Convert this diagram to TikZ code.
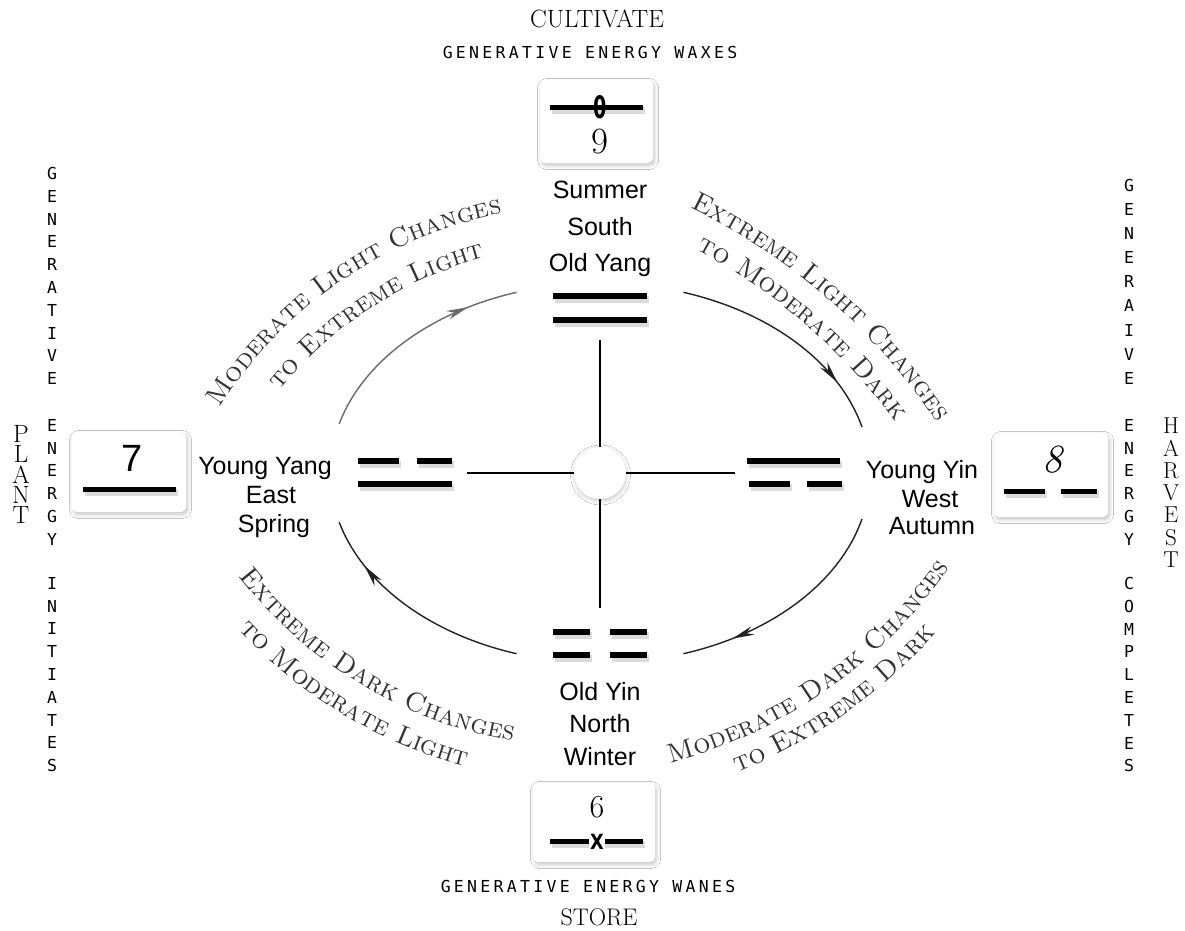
\documentclass[tikz,border=0pt]{standalone}
\usepackage{fontspec}
\usetikzlibrary{arrows.meta,decorations.markings,decorations.text,shadows.blur}
\newfontfamily\lsans{Liberation Sans}
\newfontfamily\monosp[LetterSpace=20]{DejaVu Sans Mono}
\newfontfamily\monov{DejaVu Sans Mono}
\newfontfamily\dvsans{DejaVu Sans}
\definecolor{arcgray}{HTML}{333333}
\definecolor{arrowgray}{HTML}{6A6A6A}
\definecolor{arrowdark}{HTML}{222222}
\newcommand\arcfont{\fontsize{27}{27}\selectfont\scshape\color{arcgray}}
% circular text: cx, cy, r, tstart, tend (math angles, y up), text
\newcommand\arctxt[6]{%
  \path[decorate,decoration={text along path,text align=center,
    text={|\arcfont|#6}}]
    (#1,#2) ++(-#4:#3) arc[start angle=-#4,end angle=-#5,radius=#3];}
% arrow arc on main ellipse: tstart, tend, colour
\newcommand\arrowarc[3]{%
  \draw[arcline,draw=#3,postaction={decorate},
    decoration={markings,mark=at position 0.78 with {\arrow{Stealth[length=22pt,width=9pt,inset=7pt]}}}]
    (600,473) ++(-#1:270 and 190) arc[start angle=-#1,end angle=-#2,x radius=270,y radius=190];}
% digram bar with shadow: x1, x2, y
\newcommand\digline[3]{%
  \draw[barshadow] (#1+2,#3+3.5) -- (#2+2,#3+3.5);
  \draw[bar] (#1,#3) -- (#2,#3);}
\tikzset{
  lbl/.style={font=\lsans\fontsize{25}{25}\selectfont,anchor=base,inner sep=0pt},
  spaced/.style={font=\monosp\fontsize{16.5}{16.5}\selectfont,anchor=base,inner sep=0pt},
  vert/.style={font=\monov\fontsize{16.5}{22.8}\selectfont,align=center,anchor=north,inner sep=0pt},
  vertwide/.style={font=\monov\fontsize{16.5}{24.1}\selectfont,align=center,anchor=north,inner sep=0pt},
  bigcap/.style={font=\fontsize{25}{25}\selectfont,anchor=base,inner sep=0pt},
  box/.style={fill=white,rounded corners=5pt,inner sep=0pt,
    blur shadow={shadow xshift=1.5pt,shadow yshift=-2.5pt,shadow blur radius=4pt,shadow opacity=24}},
  bar/.style={line width=6pt,black},
  barshadow/.style={line width=6.5pt,black,opacity=0.14},
  boxbar/.style={line width=5pt,black},
  arcline/.style={line width=1.4pt},
  crossline/.style={line width=1.5pt,black},
}
\begin{document}
\begin{tikzpicture}[x=1pt,y=-1pt]
\path[use as bounding box,fill=white] (0,0) rectangle (1185,930);

% ---- arrow arcs
\arrowarc{165}{108}{arrowgray}
\arrowarc{72}{14}{arrowdark}
\arrowarc{-14}{-72}{arrowdark}
\arrowarc{-108}{-165}{arrowdark}

% ---- curved texts
\arctxt{587}{639}{434}{159.5}{89.5}{Moderate Light Changes}
\arctxt{587}{639}{395}{158}{88}{to Extreme Light}
\arctxt{422}{766}{619}{74}{24}{Extreme Light Changes}
\arctxt{422}{766}{585}{74}{24}{to Moderate Dark}
\arctxt{587}{307}{440}{-156}{-86}{Extreme Dark Changes}
\arctxt{587}{307}{475}{-156}{-86}{to Moderate Light}
\arctxt{542}{282}{498}{-80}{-30}{Moderate Dark Changes}
\arctxt{542}{282}{528}{-80}{-30}{to Extreme Dark}

% ---- centre cross
\node[circle,fill=white,minimum size=52pt,inner sep=0pt,
  blur shadow={shadow xshift=0.5pt,shadow yshift=-2pt,shadow blur radius=4pt,shadow opacity=22}] (ctr) at (600,473) {};
\coordinate (vtop) at (600,340);
\coordinate (vbot) at (600,608);
\coordinate (hl) at (467,473);
\coordinate (hr) at (735,473);
\draw[crossline] (vtop) -- (ctr.north);
\draw[crossline] (ctr.south) -- (vbot);
\draw[crossline] (hl) -- (ctr.west);
\draw[crossline] (ctr.east) -- (hr);

% ---- digrams
\digline{553}{647}{296}
\digline{553}{647}{320}
\digline{358}{399}{461}
\digline{417}{452}{461}
\digline{358}{452}{484}
\digline{747}{840}{461}
\digline{749}{790}{484}
\digline{807}{842}{484}
\digline{553}{590}{632}
\digline{610}{647}{632}
\digline{553}{590}{655}
\digline{610}{647}{655}

% ---- boxes
\node[box,minimum width=113pt,minimum height=83pt] (tbox) at (596.5,121.5) {};
\node[box,minimum width=114pt,minimum height=80pt] (lbox) at (129,472) {};
\node[box,minimum width=114pt,minimum height=84pt] (rbox) at (1051,475) {};
\node[box,minimum width=122pt,minimum height=79pt] (bbox) at (594,822.5) {};

% top box: moving yang line, 9
\draw[barshadow] (552,110.5) -- (645,110.5);
\draw[boxbar] (550,107) -- (643,107);
\node[font=\dvsans\bfseries\fontsize{31}{31}\selectfont,inner sep=0pt] (zero) at (600,107) {\scalebox{0.62}[1]{0}};
\node[font=\fontsize{37}{37}\selectfont,anchor=base,inner sep=0pt] (nine) at (600,153) {9};
% left box: 7, yang line
\node[font=\lsans\fontsize{38}{38}\selectfont,inner sep=0pt] (seven) at (132,458) {7};
\draw[barshadow] (85,492.5) -- (178,492.5);
\draw[boxbar] (83,489) -- (176,489);
% right box: 8, yin line
\node[font=\itshape\fontsize{40}{40}\selectfont,inner sep=0pt] (eight) at (1052,460) {8};
\draw[barshadow] (1006,494.5) -- (1047,494.5);
\draw[barshadow] (1063,494.5) -- (1099,494.5);
\draw[boxbar] (1004,491) -- (1045,491);
\draw[boxbar] (1061,491) -- (1097,491);
% bottom box: 6, moving yin line
\node[font=\fontsize{32}{32}\selectfont,inner sep=0pt] (six) at (597,807) {6};
\draw[barshadow] (552,844.5) -- (645,844.5);
\draw[boxbar] (550,841) -- (643,841);
\node[font=\dvsans\bfseries\fontsize{21}{21}\selectfont,inner sep=0pt,fill=white,inner xsep=1pt] (ex) at (597,842) {\scalebox{0.85}[1]{X}};

% ---- quadrant labels
\node[lbl] (su1) at (600,198) {Summer};
\node[lbl] (su2) at (600,235) {South};
\node[lbl] (su3) at (600,271) {Old Yang};
\node[lbl] (yy1) at (265,474) {Young Yang};
\node[lbl] (yy2) at (271,503) {East};
\node[lbl] (yy3) at (274,532) {Spring};
\node[lbl] (yi1) at (922,478) {Young Yin};
\node[lbl] (yi2) at (930,507) {West};
\node[lbl] (yi3) at (932,534) {Autumn};
\node[lbl] (oy1) at (600,700) {Old Yin};
\node[lbl] (oy2) at (600,732) {North};
\node[lbl] (oy3) at (600,765) {Winter};

% ---- top and bottom titles
\node[bigcap] (cult) at (597,27) {CULTIVATE};
\node[spaced] (wax) at (590,58) {GENERATIVE ENERGY WAXES};
\node[spaced] (wane) at (588,892) {GENERATIVE ENERGY WANES};
\node[font=\fontsize{24}{24}\selectfont,anchor=base,inner sep=0pt] (store) at (599,925) {STORE};

% ---- side titles
\node[font=\fontsize{25}{20.4}\selectfont,align=center,anchor=north,inner sep=0pt] (plant) at (21,425) {P\\L\\A\\N\\T};
\node[font=\fontsize{23}{22.25}\selectfont,align=center,anchor=north,inner sep=0pt] (harvest) at (1171,418) {H\\A\\R\\V\\E\\S\\T};

\node[vert] (lgen) at (52,167) {G\\E\\N\\E\\R\\A\\T\\I\\V\\E};
\node[vert] (lene) at (52,419) {E\\N\\E\\R\\G\\Y};
\node[vert] (lini) at (52,577) {I\\N\\I\\T\\I\\A\\T\\E\\S};
\node[vertwide] (rgen) at (1129,179) {G\\E\\N\\E\\R\\A\\I\\V\\E};
\node[vert] (rene) at (1129,419) {E\\N\\E\\R\\G\\Y};
\node[vert] (rcom) at (1129,577) {C\\O\\M\\P\\L\\E\\T\\E\\S};
\end{tikzpicture}
\end{document}
